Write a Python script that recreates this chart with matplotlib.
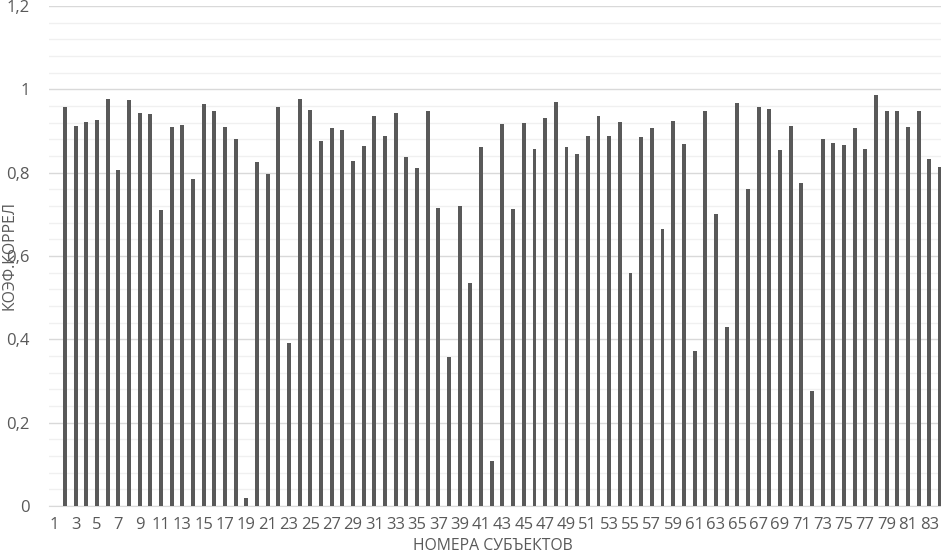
import numpy as np
import matplotlib
matplotlib.use("Agg")
import matplotlib.pyplot as plt
from matplotlib.ticker import MultipleLocator, FuncFormatter

# subjects 1..84; subject 1 has no value
subjects = list(range(1, 85))
coef = [np.nan,
        0.957, 0.912, 0.921, 0.926, 0.978, 0.806, 0.974, 0.943, 0.941, 0.710,
        0.909, 0.914, 0.784, 0.965, 0.948, 0.909, 0.880, 0.020, 0.826, 0.796,
        0.958, 0.391, 0.976, 0.950, 0.877, 0.906, 0.902, 0.828, 0.863, 0.937,
        0.889, 0.943, 0.837, 0.812, 0.948, 0.715, 0.358, 0.721, 0.535, 0.861,
        0.108, 0.916, 0.712, 0.918, 0.856, 0.931, 0.970, 0.861, 0.845, 0.887,
        0.937, 0.889, 0.922, 0.559, 0.886, 0.907, 0.665, 0.924, 0.870, 0.372,
        0.949, 0.701, 0.430, 0.968, 0.762, 0.958, 0.952, 0.854, 0.911, 0.776,
        0.276, 0.880, 0.871, 0.866, 0.906, 0.856, 0.986, 0.947, 0.949, 0.909,
        0.949, 0.832, 0.814]
tick_labels = [str(s) for s in subjects if s % 2 == 1]
tick_pos = [s for s in subjects if s % 2 == 1]

plt.rcParams['font.family'] = ['Open Sans', 'DejaVu Sans']
txt = '#595959'

fig = plt.figure(figsize=(9.41, 5.53), dpi=100)
W, H = 941, 553
x0, x1 = 49, 941
y0, y1 = 506, 6
ax = fig.add_axes([x0 / W, (H - y0) / H, (x1 - x0) / W, (y0 - y1) / H])

ax.bar(subjects, coef, width=0.37, color='#595959', zorder=3)

ax.set_xlim(0.5, 84.1)
ax.set_ylim(0, 1.2)
ax.yaxis.set_major_locator(MultipleLocator(0.2))
ax.yaxis.set_minor_locator(MultipleLocator(0.04))
ax.yaxis.set_major_formatter(FuncFormatter(lambda v, p: ('%g' % round(v, 2)).replace('.', ',')))
ax.grid(axis='y', which='major', color='#d9d9d9', linewidth=1.0, zorder=0)
ax.grid(axis='y', which='minor', color='#f0f0f0', linewidth=1.0, zorder=0)
ax.set_xticks(tick_pos)
ax.set_xticklabels(tick_labels)

for s in ['top', 'right', 'left']:
    ax.spines[s].set_visible(False)
ax.spines['bottom'].set_color('#d9d9d9')
ax.spines['bottom'].set_zorder(2)
ax.tick_params(axis='both', which='both', length=0, colors=txt, labelsize=12)
ax.tick_params(axis='x', pad=8)
ax.tick_params(axis='y', pad=14)

fig.text(493 / W, 1 - 546 / H, 'НОМЕРА СУБЪЕКТОВ', ha='center', va='center',
         color=txt, fontsize=11.3)
fig.text(10 / W, 1 - 256 / H, 'КОЭФ.КОРРЕЛ', ha='center', va='center',
         rotation=90, color=txt, fontsize=11.3)

fig.savefig('out.png', dpi=100)
